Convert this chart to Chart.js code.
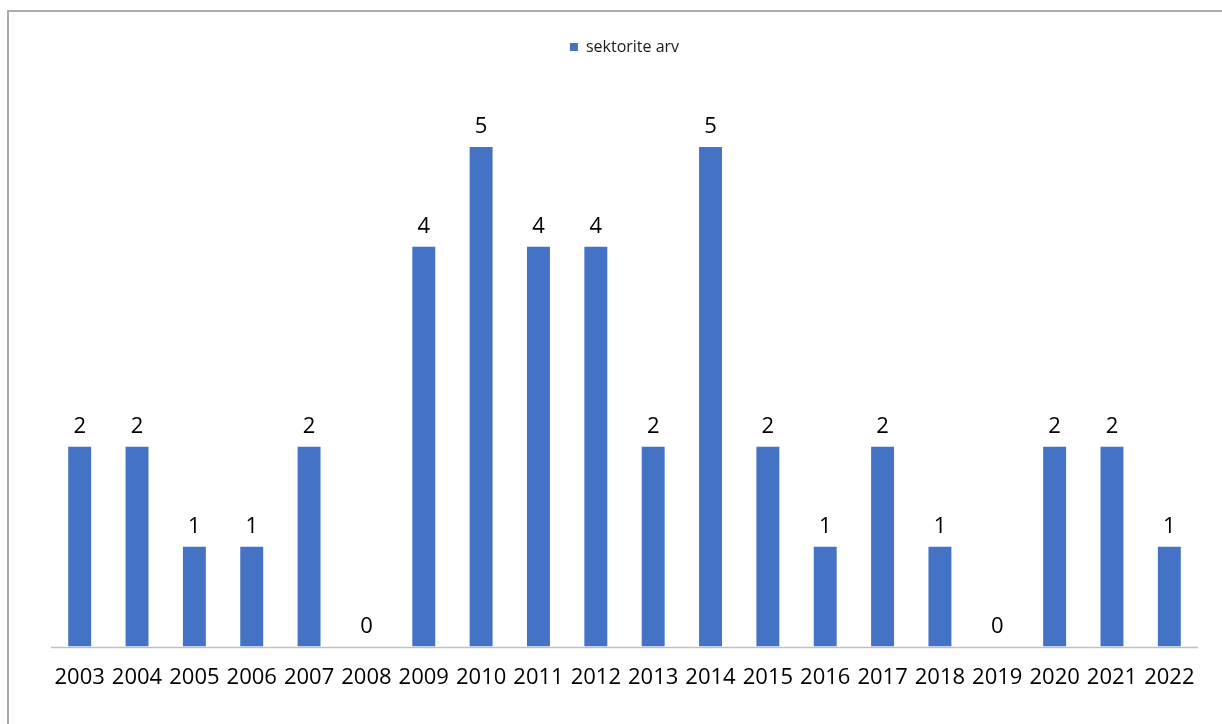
<!DOCTYPE html>
<html lang="et">
<head>
  <meta charset="UTF-8" />
  <title>sektorite arv</title>
  <script src="https://cdn.jsdelivr.net/npm/chart.js@4.4.0"></script>
  <style>
    html, body { margin: 0; padding: 0; background: #fff; overflow: hidden; }
    .frame {
      position: absolute;
      left: 7px;
      top: 10px;
      width: 1400px;
      height: 900px;
      border-left: 2px solid #ababab;
      border-top: 2px solid #ababab;
    }
    .chart-container {
      position: absolute;
      left: 0;
      top: 0;
      width: 1222px;
      height: 724px;
    }
  </style>
</head>
<body>
  <div class="frame"></div>
  <div class="chart-container">
    <canvas id="sectorChart"></canvas>
  </div>

  <script>
    const years = ['2003', '2004', '2005', '2006', '2007', '2008', '2009', '2010', '2011', '2012',
                   '2013', '2014', '2015', '2016', '2017', '2018', '2019', '2020', '2021', '2022'];
    const sectorCounts = [2, 2, 1, 1, 2, 0, 4, 5, 4, 4, 2, 5, 2, 1, 2, 1, 0, 2, 2, 1];
    const seriesName = 'sektorite arv';

    // writes each bar's value just above it
    const valueLabels = {
      id: 'valueLabels',
      afterDatasetsDraw(chart) {
        const ctx = chart.ctx;
        const meta = chart.getDatasetMeta(0);
        ctx.save();
        ctx.font = '22px "Open Sans"';
        ctx.fillStyle = '#000';
        ctx.textAlign = 'center';
        ctx.textBaseline = 'alphabetic';
        meta.data.forEach((bar, i) => {
          ctx.fillText(String(sectorCounts[i]), bar.x, bar.y - 14);
        });
        ctx.restore();
      }
    };

    // category axis line, only as wide as the plot area
    const baseLine = {
      id: 'baseLine',
      beforeDatasetsDraw(chart) {
        const { ctx, chartArea } = chart;
        const y = Math.round(chart.scales.y.getPixelForValue(0)) + 0.5;
        ctx.save();
        ctx.strokeStyle = '#bfbfbf';
        ctx.lineWidth = 1.5;
        ctx.beginPath();
        ctx.moveTo(chartArea.left, y);
        ctx.lineTo(chartArea.right, y);
        ctx.stroke();
        ctx.restore();
      }
    };

    document.addEventListener('DOMContentLoaded', function () {
      const ctx = document.getElementById('sectorChart').getContext('2d');
      new Chart(ctx, {
        type: 'bar',
        data: {
          labels: years,
          datasets: [{
            label: seriesName,
            data: sectorCounts,
            backgroundColor: '#4472C4',
            borderWidth: 0,
            barPercentage: 0.4,
            categoryPercentage: 1.0
          }]
        },
        options: {
          responsive: true,
          maintainAspectRatio: false,
          animation: false,
          layout: { padding: { top: 29, bottom: 15, left: 51, right: 24 } },
          scales: {
            x: {
              grid: { display: false, drawTicks: false },
              border: { display: false },
              ticks: {
                color: '#000',
                font: { family: 'Open Sans', size: 22 },
                padding: 18,
                maxRotation: 0,
                autoSkip: false
              }
            },
            y: {
              display: false,
              min: 0,
              max: 5.82
            }
          },
          plugins: {
            legend: {
              position: 'top',
              labels: {
                color: '#1a1a1a',
                font: { family: 'Open Sans', size: 16 },
                boxWidth: 8,
                boxHeight: 8,
                padding: 10
              }
            },
            tooltip: { enabled: false }
          }
        },
        plugins: [baseLine, valueLabels]
      });
    });
  </script>
</body>
</html>
